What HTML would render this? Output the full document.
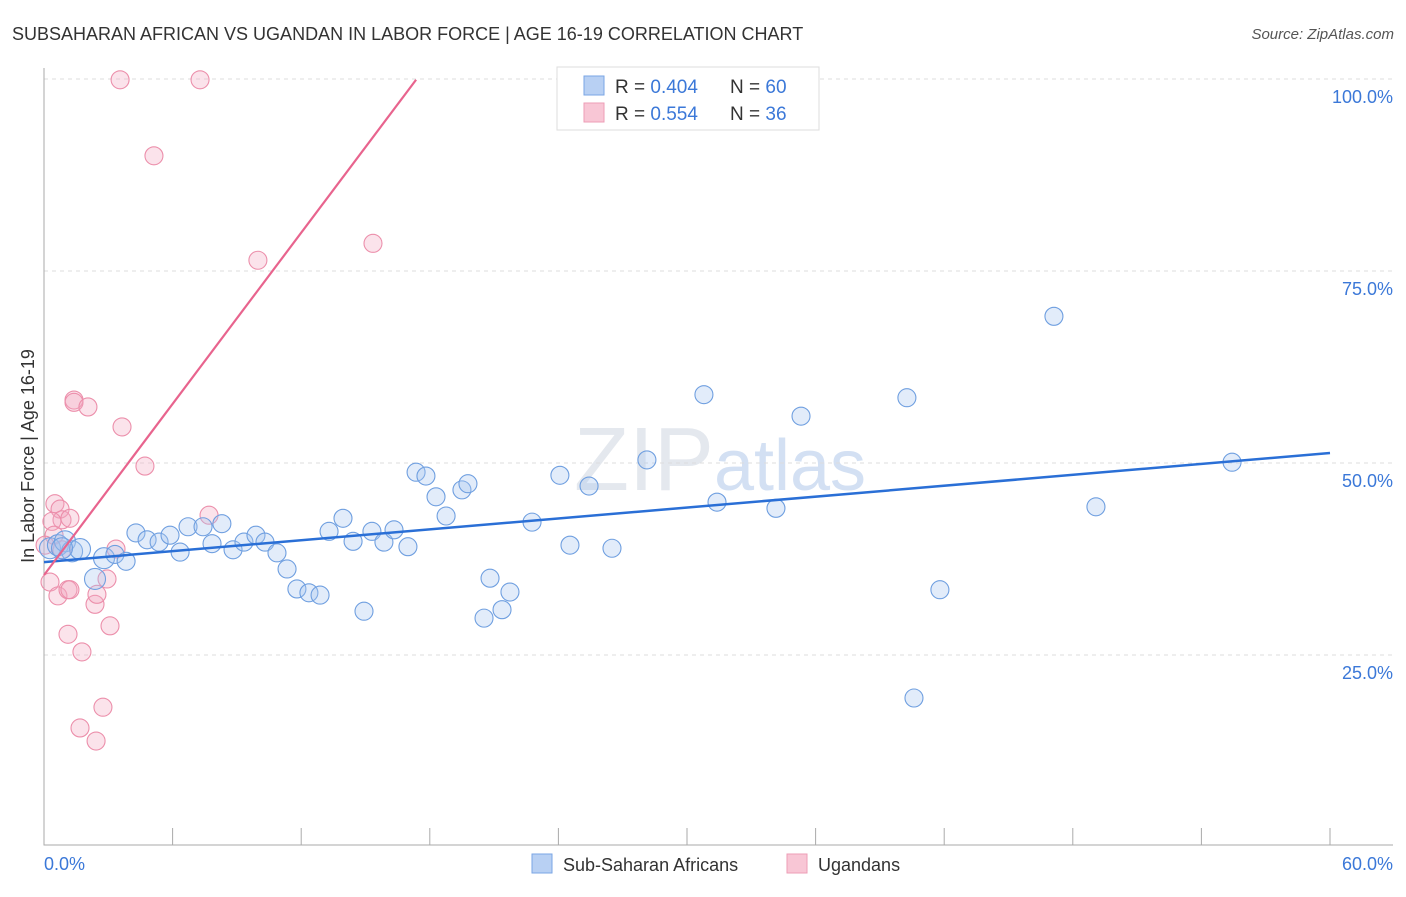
<!DOCTYPE html>
<html><head><meta charset="utf-8"><style>
body{margin:0;background:#fff;font-family:"Liberation Sans",sans-serif}
svg text{font-family:"Liberation Sans",sans-serif}
</style></head><body>
<svg id="chart" width="1406" height="892" xmlns="http://www.w3.org/2000/svg">
<text x="12" y="40" font-size="18" fill="#333">SUBSAHARAN AFRICAN VS UGANDAN IN LABOR FORCE | AGE 16-19 CORRELATION CHART</text>
<text x="1394" y="39" font-size="15" fill="#555" text-anchor="end" font-style="italic">Source: ZipAtlas.com</text>
<text x="720" y="490" font-size="90" fill="#e4e8ee" text-anchor="middle" font-family="Liberation Serif">ZIP<tspan fill="#d3e0f3" font-family="Liberation Sans" font-size="72">atlas</tspan></text>
<g id="grid"></g>
<g id="axes"></g>
<g id="pts"></g>
<g id="lines"></g>
<text transform="translate(34,456) rotate(-90)" font-size="18" fill="#333" text-anchor="middle">In Labor Force | Age 16-19</text>
<text x="44" y="870" font-size="18" fill="#3b78d8">0.0%</text>
<text x="1393" y="870" font-size="18" fill="#3b78d8" text-anchor="end">60.0%</text>
<g>
<rect x="557" y="67" width="262" height="63" fill="#fff" stroke="#ddd"/>
<rect x="584" y="76" width="20" height="19" fill="#b8d0f3" stroke="#7aa6e4"/>
<rect x="584" y="103" width="20" height="19" fill="#f8c6d5" stroke="#ee9db6"/>
<text x="615" y="93" font-size="19" fill="#333">R = <tspan fill="#3b78d8">0.404</tspan></text>
<text x="730" y="93" font-size="19" fill="#333">N = <tspan fill="#3b78d8">60</tspan></text>
<text x="615" y="120" font-size="19" fill="#333">R = <tspan fill="#3b78d8">0.554</tspan></text>
<text x="730" y="120" font-size="19" fill="#333">N = <tspan fill="#3b78d8"> 36</tspan></text>
</g>
<g>
<rect x="532" y="854" width="20" height="19" fill="#b8d0f3" stroke="#7aa6e4"/>
<text x="563" y="871" font-size="18" fill="#333">Sub-Saharan Africans</text>
<rect x="787" y="854" width="20" height="19" fill="#f8c6d5" stroke="#ee9db6"/>
<text x="818" y="871" font-size="18" fill="#333">Ugandans</text>
</g>
</svg>
<script>
const yTicks=[100,75,50,25];
const yTickLabels=["100.0%","75.0%","50.0%","25.0%"];
const blueX=[4.29,4.81,5.37,5.88,6.35,6.72,7.42,7.84,8.30,8.82,9.33,9.89,10.31,10.87,11.34,11.80,12.36,12.88,13.30,13.95,14.42,14.93,15.30,15.86,16.33,16.98,17.36,17.82,18.29,18.76,19.50,19.78,20.53,20.81,21.37,21.74,22.77,24.07,24.54,25.43,26.50,28.13,30.79,31.40,34.15,35.32,40.26,40.59,41.80,47.12,49.08,55.43,0.28,0.65,0.98,1.31,1.68,2.38,2.80,3.31,3.83,0.84];
const blueY=[40.9,40.0,39.7,40.6,38.4,41.7,41.7,39.5,42.1,38.7,39.7,40.6,39.7,38.3,36.2,33.6,33.1,32.8,41.1,42.8,39.8,30.7,41.1,39.7,41.3,39.1,48.8,48.3,45.6,43.1,46.5,47.3,29.8,35.0,30.9,33.2,42.3,48.4,39.3,47.0,38.9,50.4,58.9,44.9,44.1,56.1,58.5,19.4,33.5,69.1,44.3,50.1,38.9,39.3,39.8,38.5,38.8,34.9,37.6,38.1,37.2,38.9];
const pinkX=[3.55,7.28,5.13,15.35,9.98,1.40,1.40,2.05,3.64,4.71,0.51,0.75,0.84,1.21,0.37,7.70,3.36,0.47,0.84,0.28,0.65,1.12,1.21,2.38,2.47,2.94,1.12,3.08,1.77,2.75,1.68,2.43,0.05];
const pinkY=[99.9,99.9,90.0,78.6,76.4,58.2,57.9,57.3,54.7,49.6,44.7,44.0,42.6,42.8,42.4,43.2,38.8,40.6,38.7,34.5,32.7,33.5,33.5,31.6,32.9,34.9,27.7,28.8,25.4,18.2,15.5,13.8,39.3];
const blueTrend=[37.1,51.3];
const pinkTrend=[35.4,99.9,17.36];
const NS="http://www.w3.org/2000/svg";
const X=v=>44+v/60*1286;
const Y=v=>847-v/100*768;
function mk(tag,attrs,parent){const e=document.createElementNS(NS,tag);for(const k in attrs)e.setAttribute(k,attrs[k]);parent.appendChild(e);return e;}
const grid=document.getElementById('grid'),axes=document.getElementById('axes'),pts=document.getElementById('pts'),lines=document.getElementById('lines');
yTicks.forEach((t,i)=>{
 const l=mk('line',{x1:44,x2:1393,y1:Y(t),y2:Y(t),stroke:'#ddd','stroke-dasharray':'4,4'},grid);
 
 
 const tx=mk('text',{x:1393,y:Y(t)+24,'font-size':18,fill:'#3b78d8','text-anchor':'end'},grid);
 tx.textContent=yTickLabels[i];
 
 
});
const ax=mk('path',{d:'M44 68V845H1393',stroke:'#aaa',fill:'none'},axes);


for(let k=0;k<=10;k++){
 const t=mk('line',{x1:X(k*6),x2:X(k*6),y1:828,y2:845,stroke:'#aaa'},axes);
 
 
}
function dots(xs,ys,fill,stroke,name,big){
 xs.forEach((x,i)=>{
  const c=mk('circle',{cx:X(x),cy:Y(ys[i]),r:(big&&x<3)?10.5:9,fill:fill,'fill-opacity':0.32,stroke:stroke,'stroke-width':1.1},pts);
  
  
 });
}
dots(pinkX,pinkY,'#f4a9c0','#ec8fab','ugandan-point',false);
dots(blueX,blueY,'#a6c3ef','#6f9fe0','subsaharan-point',true);
const bl=mk('line',{x1:X(0),y1:Y(blueTrend[0]),x2:X(60),y2:Y(blueTrend[1]),stroke:'#2a6fd6','stroke-width':2.5},lines);


const pl=mk('line',{x1:X(0),y1:Y(pinkTrend[0]),x2:X(pinkTrend[2]),y2:Y(pinkTrend[1]),stroke:'#e8648e','stroke-width':2.2},lines);


</script>
</body></html>
